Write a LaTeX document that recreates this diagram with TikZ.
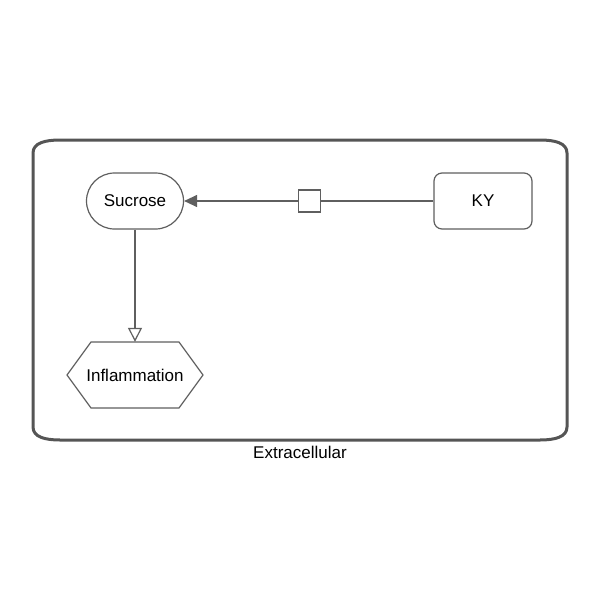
\documentclass[tikz,border=0pt]{standalone}
\usepackage{fontspec}
\setmainfont{Liberation Sans}
\usetikzlibrary{arrows.meta}
\definecolor{edgegray}{RGB}{95,95,95}
\definecolor{compgray}{RGB}{85,85,85}

\begin{document}
\begin{tikzpicture}[x=1pt, y=-1pt, font=\fontsize{17}{20}\selectfont,
  glyph/.style={draw=edgegray, line width=1.2pt, fill=white, inner sep=0pt},
  link/.style={draw=edgegray, line width=1.2pt}]
            \useasboundingbox (0,0) rectangle (600,600);

            % compartment
            \draw[compgray, line width=3pt] (33,153) .. controls (33,143) and (45,140) .. (60,140) -- (540,140)
                .. controls (555,140) and (567,143) .. (567,153) -- (567,427)
                .. controls (567,437) and (555,440) .. (540,440) -- (60,440)
                .. controls (45,440) and (33,437) .. (33,427) -- cycle;
            \node (extracellular) at (300,452) {Extracellular};

            % glyphs
            \node[glyph, rounded corners=28pt, minimum width=97pt, minimum height=56pt] (sucrose) at (135,201) {Sucrose};
            \node[glyph, rounded corners=8pt, minimum width=98pt, minimum height=56pt] (ky) at (483,201) {KY};
            \node[glyph, minimum size=22pt] (process) at (309.5,201) {};
            \draw[glyph] (67,375) -- (91,342) -- (179,342) -- (203,375) -- (179,408) -- (91,408) -- cycle;
            \node[minimum width=136pt, minimum height=66pt, inner sep=0pt] (inflammation) at (135,375) {Inflammation};

            % arcs
            \draw[link] (ky) -- (process);
            \draw[link, -{Triangle[length=13pt, width=12pt]}] (process) -- (sucrose);
            \draw[link, -{Triangle[open, length=14pt, width=14pt, fill=white]}] (sucrose) -- (inflammation);
        \end{tikzpicture}
\end{document}
